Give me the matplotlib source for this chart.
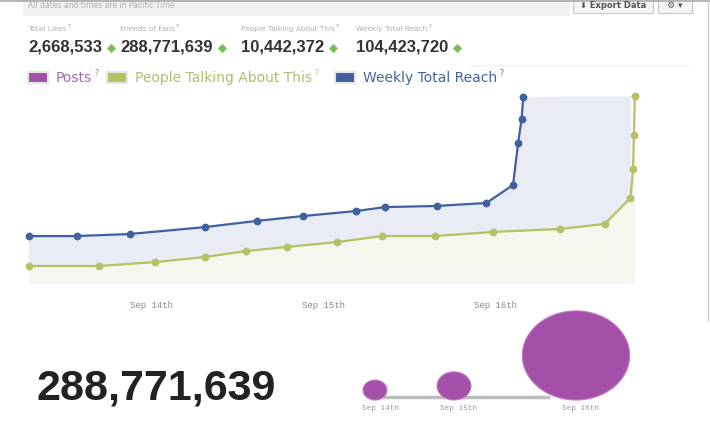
import numpy as np
import matplotlib.pyplot as plt
from matplotlib.patches import Ellipse, Rectangle

# ---- data ----
# x = days after Sep 14th 00:00, y = relative scale (0..100 = visible chart)
reach_days = [-0.72, -0.44, -0.13, 0.31, 0.61, 0.88, 1.19, 1.36, 1.66, 1.95,
              2.105, 2.135, 2.155, 2.165, 2.38, 2.64, 2.79]
reach_vals = [25.1, 25.1, 26.2, 29.9, 33.2, 35.8, 38.5, 40.6, 41.2, 42.8,
              52.4, 74.9, 87.7, 99.5, 140, 140, 140]
talk_days = [-0.72, -0.31, 0.02, 0.31, 0.55, 0.79, 1.08, 1.34, 1.65, 1.99,
             2.38, 2.64, 2.79, 2.805, 2.81, 2.815]
talk_vals = [9.1, 9.1, 11.2, 13.9, 17.1, 19.3, 21.9, 25.1, 25.1, 27.3,
             28.9, 31.6, 45.5, 61.0, 79.1, 100]
tick_days = [0, 1, 2]
tick_labels = ["Sep 14th", "Sep 15th", "Sep 16th"]

stat_names = ["Total Likes", "Friends of Fans", "People Talking About This", "Weekly Total Reach"]
stat_values = ["2,668,533", "288,771,639", "10,442,372", "104,423,720"]
legend_names = ["Posts", "People Talking About This", "Weekly Total Reach"]
big_number = "288,771,639"
posts_dates = ["Sep 14th", "Sep 15th", "Sep 16th"]
posts_counts = [1, 2, 20]

# colours
BLUE = "#40609e"
GREEN = "#b3c264"
PURPLE = "#a550a8"
legend_colors = [PURPLE, GREEN, BLUE]
legend_text_colors = ["#a868b0", "#b0bd72", "#47639c"]

W, H = 710, 434
fig = plt.figure(figsize=(W / 100, H / 100), dpi=100)

# overlay in pixel coordinates for the page furniture
ov = fig.add_axes([0, 0, 1, 1])
ov.set_xlim(0, W)
ov.set_ylim(H, 0)
ov.axis("off")

# top band + buttons
ov.add_patch(Rectangle((23, -1), 547, 17, color="#f1f1f1", lw=0))
ov.plot([0, W], [0.5, 0.5], color="#aaaaaa", lw=1.2)
ov.text(28, 5, "All dates and times are in Pacific Time", fontsize=5.5,
        color="#b0b0b0", va="center")
ov.add_patch(Rectangle((573, -2), 80, 15, facecolor="#f4f4f4", edgecolor="#c8c8c8", lw=0.8))
ov.text(613, 5.5, "\u2b07 Export Data", fontsize=6, color="#555555",
        fontweight="bold", ha="center", va="center")
ov.add_patch(Rectangle((658, -2), 34, 15, facecolor="#f4f4f4", edgecolor="#c8c8c8", lw=0.8))
ov.text(675, 5.5, "\u2699 \u25be", fontsize=6.5, color="#555555", ha="center", va="center")
ov.plot([708, 708], [0, 320], color="#cccccc", lw=1)
ov.plot([470, 690], [65, 65], color="#f3f3f3", lw=1)

renderer = fig.canvas.get_renderer()


def right_edge(t):
    bb = t.get_window_extent(renderer=renderer)
    return bb.x1 * W / fig.bbox.width


# stats row
stat_x = [28, 120, 241, 356]
for x, name, val in zip(stat_x, stat_names, stat_values):
    t = ov.text(x, 29, name, fontsize=5.3, color="#b0b0b0", va="center")
    ov.text(right_edge(t) + 1, 26, "?", fontsize=4, color="#999999", va="center")
    v = ov.text(x, 47, val, fontsize=12, fontweight="bold", color="#333333",
                va="center", family="Liberation Sans")
    ov.scatter([right_edge(v) + 9], [48], marker="D", s=22, color="#7fbd5c", lw=0)

# legend row
leg_x = [28, 107, 335]
for x, name, c, tc in zip(leg_x, legend_names, legend_colors, legend_text_colors):
    ov.add_patch(Rectangle((x, 72), 20, 11, facecolor=c, edgecolor="#e6e6e6", lw=1.5))
    t = ov.text(x + 28, 78, name, fontsize=10, color=tc, va="center")
    ov.text(right_edge(t) + 2, 74, "?", fontsize=5.5, color=tc, va="center")

# main line chart
px_left, px_right, px_top, px_bot = 20, 645, 96, 283
ax = fig.add_axes([px_left / W, 1 - px_bot / H, (px_right - px_left) / W, (px_bot - px_top) / H])
ax.set_facecolor("none")
ax.set_xlim((px_left - 152) / 171.5, (px_right - 152) / 171.5)
ax.set_ylim(0, 100)

rd = np.array(reach_days)
rv = np.array(reach_vals)
td = np.array(talk_days)
tv = np.array(talk_vals)

ax.fill_between(rd, 0, np.minimum(rv, 100), color="#e9ebf5", lw=0)
ax.fill_between(td, 0, np.minimum(tv, 100), color="#f5f6ee", lw=0)
ax.plot(rd, rv, color=BLUE, lw=1.6)
ax.plot(td, tv, color=GREEN, lw=1.6)
m = rv <= 100
ax.plot(rd[m], rv[m], "o", color=BLUE, ms=4.6, clip_on=False)
m = tv <= 100
ax.plot(td[m], tv[m], "o", color=GREEN, ms=4.6, clip_on=False)

ax.set_xticks(tick_days)
ax.set_xticklabels(tick_labels, fontsize=6.5, color="#8a8a8a", family="Liberation Mono")
ax.tick_params(axis="x", length=0, pad=13)
ax.set_yticks([])
for s in ax.spines.values():
    s.set_visible(False)

# big number
ov.text(37, 388, big_number, fontsize=31, fontweight="bold", color="#222222",
        va="center", family="Liberation Sans")

# posts bubbles
bubble_x = [375, 454, 576]
base_y = 400
ov.plot([383, 550], [397, 397], color="#bdbdbd", lw=2.5, solid_capstyle="butt")
for x, d, n in zip(bubble_x, posts_dates, posts_counts):
    r = 12 * np.sqrt(n)
    h = 2 * r * 0.83
    ov.add_patch(Ellipse((x, base_y - h / 2), 2 * r, h, facecolor=PURPLE,
                         edgecolor="#c27cc4", lw=0.8, zorder=3))
    ov.text(x + 5, 409, d, fontsize=5.5, color="#999999", ha="center", va="center",
            family="Liberation Mono")

fig.savefig("out.png", dpi=100)
